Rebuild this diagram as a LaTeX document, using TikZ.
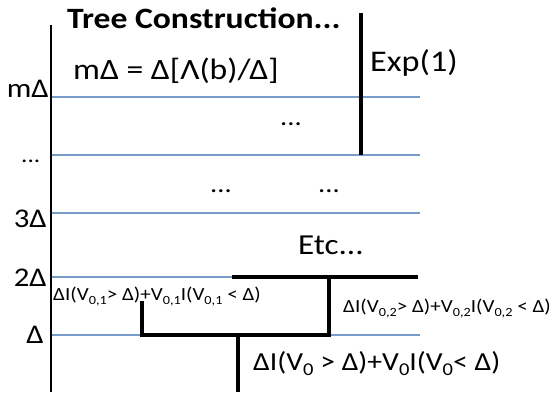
\documentclass[tikz,border=0pt]{standalone}
\usepackage{fontspec}
\setmainfont{Carlito}[FakeStretch=1.14]
\definecolor{gridblue}{HTML}{7A9CC8}
\newcommand{\fs}[1]{\fontsize{#1}{#1}\selectfont}
\newcommand{\lo}[2]{\raisebox{-0.22em}{\fs{#1}#2}}
\begin{document}
\begin{tikzpicture}[x=1pt,y=-1pt,
  grid/.style={draw=gridblue,line width=1.2pt},
  thick line/.style={draw=black,line width=3.8pt},
  axis/.style={draw=black,line width=1.6pt},
  txt/.style={inner sep=0pt,anchor=base west},
  lbl/.style={inner sep=0pt,anchor=base east,font=\fs{27}},
  big/.style={txt,font=\fs{30}},
  small/.style={txt,font=\fs{18.5}}]
\useasboundingbox (0,0) rectangle (553,392);
% axis
\coordinate (axtop) at (51,25);
\coordinate (axbot) at (51,392);
\draw[axis] (axtop) -- (axbot);
% grid levels
\coordinate (gm0) at (52,97);   \coordinate (gm1) at (420,97);
\coordinate (gd0) at (52,155);  \coordinate (gd1) at (420,155);
\coordinate (g30) at (52,213);  \coordinate (g31) at (420,213);
\coordinate (g20) at (52,277);  \coordinate (g21) at (232,277);
\coordinate (g10) at (52,335);  \coordinate (g11) at (420,335);
\draw[grid] (gm0) -- (gm1);
\draw[grid] (gd0) -- (gd1);
\draw[grid] (g30) -- (g31);
\draw[grid] (g20) -- (g21);
\draw[grid] (g10) -- (g11);
% left labels
\node[lbl] (lm) at (49,97) {mΔ};
\node[txt,font=\fs{22}] (ld) at (21,162) {...};
\node[lbl] (l3) at (47,227) {3Δ};
\node[lbl] (l2) at (47,286.5) {2Δ};
\node[lbl] (l1) at (44,343) {Δ};
% title and texts
\node[txt,font=\fs{29.5}\bfseries] (title) at (67,28) {Tree Construction...};
\node[txt,font=\fs{29.5}] (eq) at (73,79) {mΔ = Δ[Λ(b)/Δ]};
\node[big] (exp) at (370,71) {Exp(1)};
\node[txt,font=\fs{29}] (etc) at (298,254) {Etc...};
\node[txt,font=\fs{25}] (dots1) at (280,125) {...};
\node[txt,font=\fs{25}] (dots2) at (210,192) {...};
\node[txt,font=\fs{25}] (dots3) at (318,192) {...};
% Exp(1) bar
\coordinate (et) at (361,13);
\coordinate (eb) at (361,155);
\draw[thick line] (et) -- (eb);
% tree
\coordinate (root) at (238,392);
\coordinate (rj) at (238,335);
\coordinate (lj) at (142,335);
\coordinate (lt) at (142,303);
\coordinate (rrj) at (329,335);
\coordinate (rt) at (329,277);
\coordinate (tl) at (232,277);
\coordinate (tr) at (418,277);
\draw[thick line] (root) -- (rj);
\draw[thick line,line cap=rect] (lt) -- (lj) -- (rrj) -- (rt);
\draw[thick line] (tl) -- (tr);
% formulas
\node[small] (f1) at (53,300) {ΔI(V\lo{12.5}{0,1}> Δ)+V\lo{12.5}{0,1}I(V\lo{12.5}{0,1} < Δ)};
\node[small] (f2) at (343,312) {ΔI(V\lo{12.5}{0,2}> Δ)+V\lo{12.5}{0,2}I(V\lo{12.5}{0,2} < Δ)};
\node[txt,font=\fs{26}] (f0) at (253,370) {ΔI(V\lo{18}{0} > Δ)+V\lo{18}{0}I(V\lo{18}{0}< Δ)};
\end{tikzpicture}
\end{document}
